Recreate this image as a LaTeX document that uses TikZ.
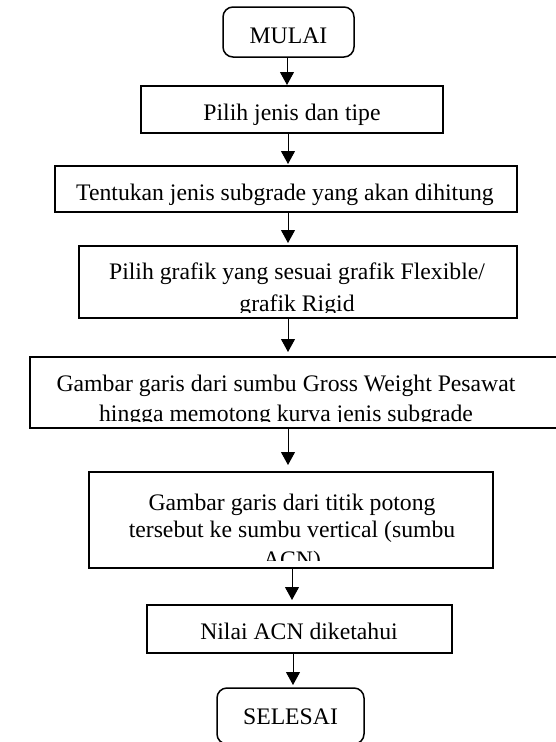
\documentclass[tikz,border=0pt]{standalone}
\usepackage{fontspec}
\setmainfont{Liberation Serif}
\usetikzlibrary{arrows.meta}

\tikzset{
  flowbox/.style={draw=black, line width=1.5pt, rectangle, inner sep=0pt},
  termbox/.style={flowbox, rounded corners=10pt},
  label/.style={inner sep=0pt, anchor=base, font=\fontsize{23.7}{27}\selectfont},
  flowarrow/.style={line width=1pt, -{Triangle[width=14pt,length=13pt]}}
}

\begin{document}
\begin{tikzpicture}[x=1pt, y=-1pt]
\useasboundingbox (0,0) rectangle (556,742);

% terminal and process boxes
\node[termbox, minimum width=131pt, minimum height=50pt] (start) at (288.5,32) {};
\node[label] (startt) at (288.5,43.5) {MULAI};

\node[flowbox, minimum width=302pt, minimum height=47pt] (b1) at (292,109.5) {};
\node[label] (b1t) at (292,120) {Pilih jenis dan tipe};

\node[flowbox, minimum width=462pt, minimum height=46pt] (b2) at (286,189) {};
\node[label] (b2t) at (285,200) {Tentukan jenis subgrade yang akan dihitung};

\node[flowbox, minimum width=438pt, minimum height=72pt] (b3) at (298,282) {};
\begin{scope}
  \clip (79,246) rectangle (517,312);
  \node[label] (b3a) at (297,279) {Pilih grafik yang sesuai grafik Flexible/};
  \node[label] (b3b) at (297,311) {grafik Rigid};
\end{scope}

\node[flowbox, line width=1.3pt, minimum width=530pt, minimum height=71pt] (b4) at (295,392.5) {};
\begin{scope}
  \clip (30,357) rectangle (560,421.5);
  \node[label] (b4a) at (286,391.5) {Gambar garis dari sumbu Gross Weight Pesawat};
  \node[label] (b4b) at (286,421) {hingga memotong kurva jenis subgrade};
\end{scope}

\node[flowbox, line width=1.3pt, minimum width=404pt, minimum height=96pt] (b5) at (291,520) {};
\begin{scope}
  \clip (89,472) rectangle (493,560);
  \node[label] (b5a) at (292,510.5) {Gambar garis dari titik potong};
  \node[label] (b5b) at (292,537.5) {tersebut ke sumbu vertical (sumbu};
  \node[label] (b5c) at (292,567) {ACN)};
\end{scope}

\node[flowbox, minimum width=305pt, minimum height=48pt] (b6) at (299.5,629) {};
\node[label] (b6t) at (299,639) {Nilai ACN diketahui};

\node[termbox, minimum width=147pt, minimum height=56pt] (stop) at (290.5,716) {};
\node[label] (stopt) at (290.5,724) {SELESAI};

% arrow tips stop just above the next box
\coordinate (t1) at (287,85);
\coordinate (t2) at (288,164);
\coordinate (t3) at (288,243);
\coordinate (t4) at (288,352);
\coordinate (t5) at (288,465);
\coordinate (t6) at (292,600);
\coordinate (t7) at (293,685);

\draw[flowarrow] (start.south -| t1) -- (t1);
\draw[flowarrow] (b1.south -| t2) -- (t2);
\draw[flowarrow] (b2.south -| t3) -- (t3);
\draw[flowarrow] (b3.south -| t4) -- (t4);
\draw[flowarrow] (b4.south -| t5) -- (t5);
\draw[flowarrow] (b5.south -| t6) -- (t6);
\draw[flowarrow] (b6.south -| t7) -- (t7);
\end{tikzpicture}
\end{document}
